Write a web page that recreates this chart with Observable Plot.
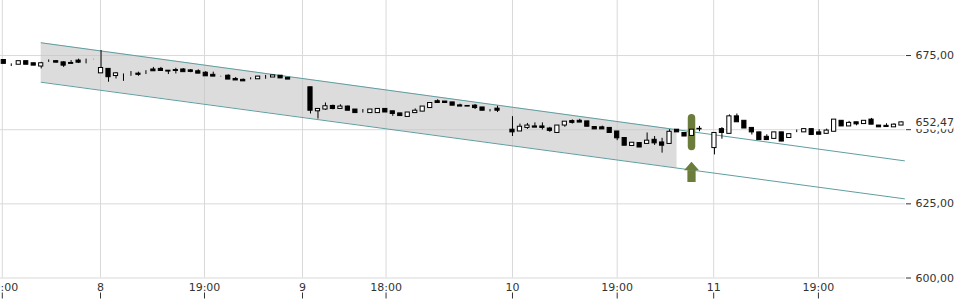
<!DOCTYPE html>
<html><head><meta charset="utf-8">
<script src="https://cdn.jsdelivr.net/npm/d3@7"></script>
<script src="https://cdn.jsdelivr.net/npm/@observablehq/plot@0.6"></script>
<style>html,body{margin:0;padding:0;background:#fff;overflow:hidden}</style>
</head><body><div id="chart"></div>
<script>
// Candle values (one per trading slot, in order)
const opens = [
673.5,672.2,671.9,673.1,672.4,671.3,672.7,673.1,672.7,672.5,
673.3,673.0,673.6,669.0,670.5,668.1,668.8,668.8,668.9,669.2,
670.3,670.5,669.9,670.1,670.3,670.0,669.7,669.2,668.5,667.8,
668.2,667.1,666.8,666.8,667.0,667.7,667.6,668.2,667.5,666.9,
666.9,664.3,656.2,656.8,658.0,657.0,657.8,656.8,656.1,655.6,
655.6,657.0,656.2,655.5,654.3,655.6,656.1,657.3,659.6,659.5,
659.2,658.2,658.0,658.1,657.5,656.4,657.1,657.0,650.0,649.4,
650.6,651.1,651.1,650.4,648.9,651.4,652.9,653.0,652.8,650.9,
650.8,650.6,649.4,647.2,644.5,645.5,645.2,646.6,645.7,645.2,
650.0,648.9,647.9,650.3,650.2,643.8,650.2,648.6,654.5,653.0,
650.6,649.1,647.6,646.9,649.1,647.2,649.0,649.1,650.2,649.1,
648.6,649.3,653.0,651.1,652.5,651.9,653.4,651.4,651.3,650.8,
651.4];
const closes = [
672.2,672.2,673.1,671.9,671.6,672.4,672.7,672.6,671.6,672.2,
672.6,673.0,673.6,670.8,667.7,669.0,668.8,668.8,668.5,669.2,
669.7,669.8,669.6,669.8,669.4,669.5,668.9,668.0,667.9,667.8,
666.9,666.6,666.3,666.8,667.9,667.7,668.3,667.3,666.9,666.9,
666.9,656.4,657.0,657.9,657.0,657.8,656.4,655.6,656.1,656.8,
657.0,655.8,655.3,654.6,655.8,656.4,657.8,659.0,659.0,659.0,
658.1,657.8,657.8,657.3,656.4,656.4,656.4,657.0,649.1,651.0,
651.4,650.7,650.6,649.6,651.4,652.7,652.3,652.4,651.0,650.1,
650.1,648.9,647.1,644.6,645.6,644.0,646.3,645.4,644.6,649.3,
649.1,647.7,650.0,650.1,650.2,648.9,648.9,654.5,652.5,650.4,
649.1,646.5,646.5,649.1,646.0,648.5,649.0,650.2,648.2,648.3,
649.7,653.4,651.1,652.3,651.8,653.0,651.7,650.8,650.9,651.7,
652.47];
const highs = [
673.5,672.2,673.1,673.1,672.4,672.7,673.5,673.3,672.9,673.3,
673.8,673.8,673.7,676.7,670.6,669.3,668.8,669.6,669.4,669.9,
671.0,671.0,669.9,670.7,670.6,670.3,670.2,669.6,669.4,668.0,
668.5,667.6,667.1,667.5,667.9,668.3,668.3,668.2,667.5,666.9,
666.9,664.3,657.0,659.0,658.3,658.4,658.0,656.8,656.8,656.8,
657.0,657.0,656.2,655.5,655.8,657.0,657.8,659.0,660.1,659.5,
659.2,658.6,658.0,658.5,657.5,656.8,657.9,657.0,654.4,651.9,
652.1,652.3,652.3,650.8,651.4,652.7,653.3,653.5,652.8,650.9,
651.2,650.6,649.4,647.2,645.6,645.5,648.9,647.7,647.1,650.0,
650.0,648.9,650.0,651.1,650.2,648.9,650.7,655.0,655.3,653.0,
650.6,649.1,648.3,649.1,649.1,648.5,649.9,650.2,650.2,650.0,
650.2,653.4,653.0,652.8,652.5,653.0,653.8,651.4,652.0,652.0,
652.6];
const lows = [
672.2,671.3,671.9,671.9,671.6,670.5,672.7,672.5,671.0,672.2,
672.3,672.2,673.6,669.0,666.0,667.1,666.3,668.0,668.0,668.6,
669.7,669.8,668.6,668.8,669.4,669.2,668.9,668.0,667.9,667.8,
666.9,666.6,666.3,666.8,667.0,667.0,667.6,667.3,666.9,666.9,
666.9,655.3,653.6,656.5,656.7,657.0,656.3,655.6,655.6,655.6,
655.6,655.8,654.5,654.6,654.3,655.6,656.1,657.3,659.0,659.0,
658.1,657.8,657.8,656.8,656.4,656.0,655.8,657.0,647.7,649.4,
650.1,650.7,649.9,649.1,648.9,650.8,651.9,652.4,651.0,650.1,
650.1,648.9,646.3,644.6,644.5,644.0,645.2,644.7,642.1,645.2,
649.1,647.7,647.9,649.3,650.2,641.5,646.8,648.6,652.5,650.4,
648.2,646.5,646.5,646.9,646.0,647.2,649.0,649.1,648.2,648.3,
648.6,649.3,651.1,651.1,651.3,651.9,651.7,650.8,650.9,650.8,
651.4];

// Time axis (slot position -> label)
const xTickPos = [-0.2, 12.93, 26.83, 39.93, 51.1, 68.0, 82.0, 94.9, 108.9];
const xTickLabels = ["19:00", "8", "19:00", "9", "18:00", "10", "19:00", "11", "19:00"];
const yTicks = [600, 625, 650, 675];

// Trend channel
const channelX = [5, 120.4];
const channelUpper = [679.3, 639.5];
const channelLower = [666.0, 626.7];
const channelFillX = [5, 90];
const channelFillUpper = [679.3, 650.0];
const channelFillLower = [666.0, 637.0];

// Signal marker
const signalIndex = [92];
const signalHigh = [655.1];
const signalLow = [642.9];
const arrowTip = [639.0];
const arrowBottom = [632.2];

const lastPrice = 652.47;

const candles = opens.map((o, i) => ({i, open: o, close: closes[i], high: highs[i], low: lows[i]}));
const labelMap = new Map(xTickPos.map((p, k) => [p, xTickLabels[k]]));
const fmt = d => d3.format(".2f")(d).replace(".", ",");
const channelRows = channelX.map((x, k) => ({x, upper: channelUpper[k], lower: channelLower[k]}));
const fillRows = channelFillX.map((x, k) => ({x, hi: channelFillUpper[k], lo: channelFillLower[k]}));
const signals = signalIndex.map((i, k) => ({i, hi: signalHigh[k], lo: signalLow[k], tip: arrowTip[k], bottom: arrowBottom[k]}));
const headDepth = 2.8;
const arrowHead = signals.flatMap(s => [
  {x: s.i - 1.0, y1: s.tip - headDepth, y2: s.tip - headDepth},
  {x: s.i, y1: s.tip - headDepth, y2: s.tip},
  {x: s.i + 1.0, y1: s.tip - headDepth, y2: s.tip - headDepth}
]);
const green = "#6b7c3b";

const chart = Plot.plot({
  width: 960, height: 300,
  marginLeft: 0, marginRight: 55, marginTop: 0, marginBottom: 22.5,
  style: {fontFamily: "DejaVu Sans, sans-serif", fontSize: "11px", color: "#333", background: "#fff"},
  x: {domain: [-0.44, 120.54], axis: null},
  y: {domain: [600, 693.56], axis: null},
  marks: [
    Plot.gridY(yTicks, {stroke: "#d9d9d9", strokeOpacity: 1}),
    Plot.gridX(xTickPos, {stroke: "#d9d9d9", strokeOpacity: 1}),
    Plot.areaY(fillRows, {x: "x", y1: "lo", y2: "hi", fill: "#c4c4c4", fillOpacity: 0.6}),
    Plot.line(channelRows, {x: "x", y: "upper", stroke: "#5f9ea0", strokeWidth: 1}),
    Plot.line(channelRows, {x: "x", y: "lower", stroke: "#5f9ea0", strokeWidth: 1}),
    Plot.rect(signals, {x1: d => d.i - 0.5, x2: d => d.i + 0.5, y1: "lo", y2: "hi", rx: 4, fill: green}),
    Plot.rect(signals, {x1: d => d.i - 0.55, x2: d => d.i + 0.55, y1: "bottom", y2: d => d.tip - headDepth, fill: green}),
    Plot.areaY(arrowHead, {x: "x", y1: "y1", y2: "y2", fill: green}),
    Plot.ruleX(candles, {x: "i", y1: "low", y2: "high", stroke: "#000", strokeWidth: 1}),
    Plot.rect(candles, {
      x1: d => d.i - 0.28, x2: d => d.i + 0.28, y1: "open", y2: "close",
      fill: d => d.close >= d.open ? "#ffffff" : "#000000", stroke: "#000", strokeWidth: 1
    }),
    Plot.axisX(xTickPos, {anchor: "bottom", tickSize: 0, tickPadding: 5, tickFormat: d => labelMap.get(d), fontSize: 11}),
    Plot.axisX(xTickPos, {anchor: "bottom", tickSize: 6, tickFormat: () => "", dy: 15}),
    Plot.axisY(yTicks, {anchor: "right", tickSize: 5, tickPadding: 5, tickFormat: fmt, fontSize: 11}),
    Plot.text([lastPrice], {
      x: () => 120.54, y: d => d, dx: 10, text: d => fmt(d), textAnchor: "start",
      fill: "#333", stroke: "#fff", strokeWidth: 7, fontSize: 11
    })
  ]
});
document.getElementById("chart").appendChild(chart);
</script>
</body></html>
